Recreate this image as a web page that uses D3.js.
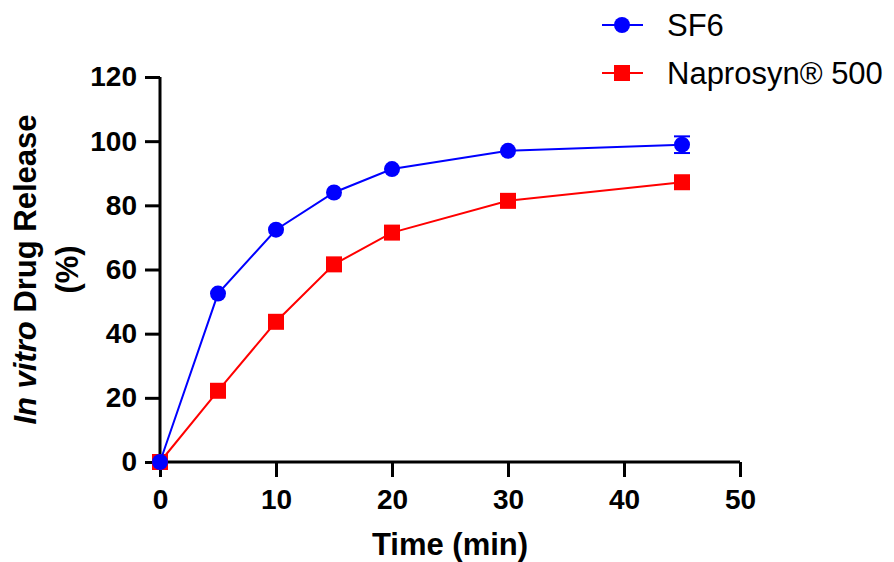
<!DOCTYPE html>
<html>
<head>
<meta charset="utf-8">
<script src="https://cdn.jsdelivr.net/npm/d3@7"></script>
<style>
  body { margin: 0; background: #fff; }
  text { font-family: Arial, "Liberation Sans", sans-serif; }
</style>
</head>
<body>
<div id="chart"></div>
<script>
var times = [0, 5, 10, 15, 20, 30, 45];
var sf6 = [0, 52.5, 72.4, 84.0, 91.3, 97.0, 98.9];
var sf6Err = [0, 0, 0, 0, 0, 0, 2.6];
var naprosyn = [0, 22.2, 43.7, 61.6, 71.5, 81.4, 87.2];
var xTicks = [0, 10, 20, 30, 40, 50];
var yTicks = [0, 20, 40, 60, 80, 100, 120];
var seriesNames = ["SF6", "Naprosyn® 500"];

var width = 894, height = 562;
var margin = {top: 77, right: 154, bottom: 100, left: 160};

var svg = d3.select("#chart").append("svg")
    .attr("width", width)
    .attr("height", height);

var x = d3.scaleLinear().domain([0, 50]).range([margin.left, width - margin.right]);
var y = d3.scaleLinear().domain([0, 120]).range([height - margin.bottom, margin.top]);

// axes
var xAxis = svg.append("g")
    .attr("transform", "translate(0," + y(0) + ")")
    .call(d3.axisBottom(x).tickValues(xTicks).tickSize(15).tickPadding(12).tickFormat(d3.format("d")));
var yAxis = svg.append("g")
    .attr("transform", "translate(" + x(0) + ",0)")
    .call(d3.axisLeft(y).tickValues(yTicks).tickSize(15).tickPadding(8).tickFormat(d3.format("d")));

[xAxis, yAxis].forEach(function(a) {
  a.select(".domain").attr("stroke", "#000").attr("stroke-width", 3);
  a.selectAll(".tick line").attr("stroke", "#000").attr("stroke-width", 3);
  a.selectAll(".tick text").attr("fill", "#000")
    .style("font-size", "28px").style("font-weight", "bold");
});
xAxis.select(".domain").attr("d", "M" + x(0) + ",0H" + x(50));
yAxis.select(".domain").attr("d", "M0," + y(0) + "V" + y(120));

// axis titles
svg.append("text")
    .attr("x", (x(0) + x(50)) / 2)
    .attr("y", 555)
    .attr("text-anchor", "middle")
    .style("font-size", "31px").style("font-weight", "bold")
    .text("Time (min)");

var yt = svg.append("text")
    .attr("transform", "translate(36," + (y(0) + y(120)) / 2 + ") rotate(-90)")
    .attr("text-anchor", "middle")
    .style("font-size", "31px").style("font-weight", "bold");
yt.append("tspan").style("font-style", "italic").text("In vitro");
yt.append("tspan").text(" Drug Release");
svg.append("text")
    .attr("transform", "translate(78," + (y(0) + y(120)) / 2 + ") rotate(-90)")
    .attr("text-anchor", "middle")
    .style("font-size", "31px").style("font-weight", "bold")
    .text("(%)");

var line = d3.line()
    .x(function(d) { return x(d[0]); })
    .y(function(d) { return y(d[1]); });

var napData = times.map(function(t, i) { return [t, naprosyn[i]]; });
var sfData = times.map(function(t, i) { return [t, sf6[i], sf6Err[i]]; });

// Naprosyn (drawn first, under SF6)
svg.append("path").datum(napData)
    .attr("fill", "none").attr("stroke", "#ff0000").attr("stroke-width", 2)
    .attr("d", line);
svg.append("g").selectAll("rect")
    .data(napData)
    .enter().append("rect")
    .attr("x", function(d) { return x(d[0]) - 8; })
    .attr("y", function(d) { return y(d[1]) - 8; })
    .attr("width", 16).attr("height", 16)
    .attr("fill", "#ff0000");

// SF6
svg.append("path").datum(sfData)
    .attr("fill", "none").attr("stroke", "#0000ff").attr("stroke-width", 2)
    .attr("d", line);
var eb = svg.append("g").selectAll("g")
    .data(sfData.filter(function(d) { return d[2] > 0; }))
    .enter().append("g").attr("stroke", "#0000ff").attr("stroke-width", 2);
eb.append("line")
    .attr("x1", function(d) { return x(d[0]); }).attr("x2", function(d) { return x(d[0]); })
    .attr("y1", function(d) { return y(d[1] - d[2]); }).attr("y2", function(d) { return y(d[1] + d[2]); });
eb.append("line")
    .attr("x1", function(d) { return x(d[0]) - 8; }).attr("x2", function(d) { return x(d[0]) + 8; })
    .attr("y1", function(d) { return y(d[1] + d[2]); }).attr("y2", function(d) { return y(d[1] + d[2]); });
eb.append("line")
    .attr("x1", function(d) { return x(d[0]) - 8; }).attr("x2", function(d) { return x(d[0]) + 8; })
    .attr("y1", function(d) { return y(d[1] - d[2]); }).attr("y2", function(d) { return y(d[1] - d[2]); });
svg.append("g").selectAll("circle")
    .data(sfData)
    .enter().append("circle")
    .attr("cx", function(d) { return x(d[0]); })
    .attr("cy", function(d) { return y(d[1]); })
    .attr("r", 8)
    .attr("fill", "#0000ff");

// legend
var colors = ["#0000ff", "#ff0000"];
var leg = svg.append("g").selectAll("g")
    .data(seriesNames)
    .enter().append("g")
    .attr("transform", function(d, i) { return "translate(602," + (25 + i * 48) + ")"; });
leg.append("line").attr("x1", 0).attr("x2", 41).attr("y1", 0).attr("y2", 0)
    .attr("stroke", function(d, i) { return colors[i]; }).attr("stroke-width", 2);
leg.each(function(d, i) {
  var g = d3.select(this);
  if (i === 0) g.append("circle").attr("cx", 20).attr("cy", 0).attr("r", 8).attr("fill", colors[i]);
  else g.append("rect").attr("x", 12).attr("y", -8).attr("width", 16).attr("height", 16).attr("fill", colors[i]);
});
leg.append("text").attr("x", 65).attr("y", 0).attr("dy", "0.36em")
    .style("font-size", "31px").attr("fill", "#000")
    .text(function(d) { return d; });
</script>
</body>
</html>
